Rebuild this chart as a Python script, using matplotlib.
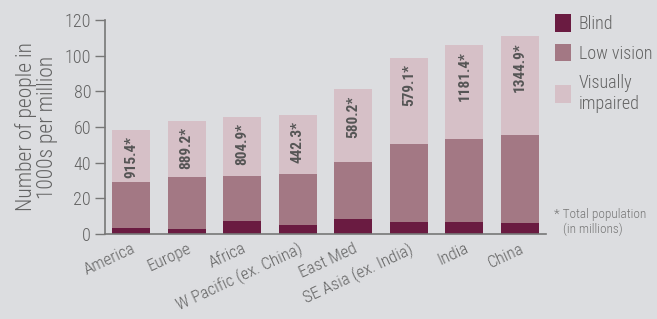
import matplotlib
matplotlib.use("Agg")
import matplotlib.pyplot as plt

regions = ['America', 'Europe', 'Africa', 'W Pacific (ex. China)', 'East Med',
           'SE Asia (ex. India)', 'India', 'China']
blind = [3.4, 2.8, 7.3, 5.0, 8.4, 6.7, 6.7, 6.2]
low_vision = [25.8, 29.2, 25.2, 28.6, 32.0, 43.8, 46.6, 49.3]
impaired = [29.1, 31.4, 33.1, 33.1, 40.9, 48.2, 52.7, 55.5]
population = ['915.4*', '889.2*', '804.9*', '442.3*', '580.2*', '579.1*', '1181.4*', '1344.9*']

c_blind = '#6a1b41'
c_low = '#a37884'
c_imp = '#d6c0c7'
bg = '#dcdde0'
txt = '#636363'

plt.rcParams['font.family'] = ['Roboto Condensed', 'Liberation Sans Narrow', 'DejaVu Sans']

fig = plt.figure(figsize=(6.57, 3.19), dpi=100, facecolor=bg)
ax = fig.add_axes([0.16, 0.2665, 0.671, 0.6705], facecolor=bg)

x = range(len(regions))
w = 0.68
ax.bar(x, blind, w, color=c_blind, label='Blind')
ax.bar(x, low_vision, w, bottom=blind, color=c_low, label='Low vision')
base3 = [a + b for a, b in zip(blind, low_vision)]
ax.bar(x, impaired, w, bottom=base3, color=c_imp, label='Visually\nimpaired')

# population labels inside the top segment
for i, lab in enumerate(population):
    top = base3[i] + impaired[i]
    ax.text(i, top - 3.5, lab, rotation=90, ha='center', va='top',
            fontsize=11, fontweight='bold', color='#555555')

ax.set_xlim(-0.47, len(regions) - 0.53)
ax.set_ylim(0, 120)
ax.set_yticks(range(0, 121, 20))
ax.tick_params(axis='y', length=7, width=1, color='#777777', labelsize=13,
               labelcolor=txt, pad=3)
ax.set_xticks(list(x))
ax.set_xticklabels(regions, rotation=25, ha='right', rotation_mode='anchor',
                   fontsize=12.3, color=txt, fontweight='light')
for t in ax.get_yticklabels():
    t.set_fontweight('light')
ax.tick_params(axis='x', length=0, pad=5)
for s in ['top', 'right']:
    ax.spines[s].set_visible(False)
for s in ['left', 'bottom']:
    ax.spines[s].set_color('#777777')
    ax.spines[s].set_linewidth(1.2)

ax.set_ylabel('Number of people in\n1000s per million', fontsize=15.5,
              color=txt, labelpad=5, linespacing=1.0, fontweight='light')

ax.legend(loc='upper left', bbox_to_anchor=(1.005, 1.06), frameon=False,
          handlelength=0.85, handleheight=1.1, labelcolor=txt,
          handletextpad=0.45, labelspacing=0.6, borderaxespad=0,
          prop={'weight': 'light', 'size': 13})

fig.text(0.843, 0.305, '* Total population\n   (in millions)', fontsize=9.5,
         color='#777777', va='center', ha='left', linespacing=1.15,
         fontweight='light')

fig.savefig('out.png', dpi=100, facecolor=bg)
